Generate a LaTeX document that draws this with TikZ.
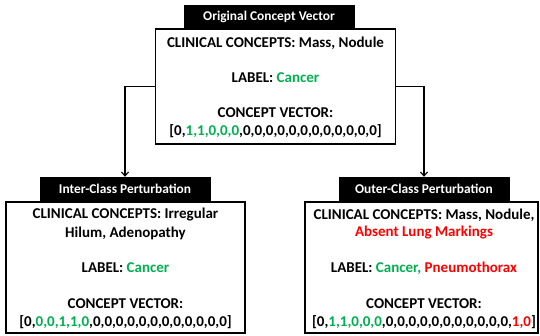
\documentclass[tikz,border=0pt]{standalone}
\usepackage{fontspec}
\setmainfont{Carlito}[BoldFont={Carlito Bold},ItalicFont={Carlito Italic},BoldItalicFont={Carlito Bold Italic}]
\usetikzlibrary{arrows.meta}
\definecolor{cgreen}{RGB}{0,176,80}
\definecolor{cred}{RGB}{255,0,0}
\newcommand{\gr}[1]{\textcolor{cgreen}{#1}}
\newcommand{\rd}[1]{\textcolor{cred}{#1}}
\begin{document}
\begin{tikzpicture}[x=1pt,y=-1pt,
  tabbox/.style={fill=black,draw=black,text=white,font=\bfseries\fontsize{13.4}{15}\selectfont,inner sep=0pt},
  mainbox/.style={draw=black,line width=1.6pt,inner sep=0pt},
  txt/.style={font=\bfseries\fontsize{15}{18}\selectfont,align=center,inner sep=0pt},
  conn/.style={draw=black,line width=1.1pt,-{Straight Barb[length=4pt,width=7pt]}}
]
\useasboundingbox (0,0) rectangle (540,335);
% top
\node[tabbox,minimum width=170pt,minimum height=23pt] (ttab) at (269,16.5) {Original Concept Vector};
\node[mainbox,minimum width=240pt,minimum height=115pt] (tbox) at (275.5,86.5) {};
\node[txt] (t1) at (275.5,43) {CLINICAL CONCEPTS: Mass, Nodule};
\node[txt] (t2) at (275.5,78) {LABEL: \gr{Cancer}};
\node[txt] (t3) at (275.5,113) {CONCEPT VECTOR:};
\node[txt] (t4) at (275.5,131) {[0,\gr{1,1,0,0,0},0,0,0,0,0,0,0,0,0,0,0,0]};
% left
\node[tabbox,minimum width=170pt,minimum height=24pt] (ltab) at (125,189) {Inter-Class Perturbation};
\node[mainbox,minimum width=239pt,minimum height=131pt] (lbox) at (125.5,267.5) {};
\node[txt] (l1) at (125.5,215) {CLINICAL CONCEPTS: Irregular};
\node[txt] (l2) at (125.5,233) {Hilum, Adenopathy};
\node[txt] (l3) at (125.5,268) {LABEL: \gr{Cancer}};
\node[txt] (l4) at (125.5,304) {CONCEPT VECTOR:};
\node[txt] (l5) at (125.5,322) {[0,\gr{0,0,1,1,0},0,0,0,0,0,0,0,0,0,0,0,0]};
% right
\node[tabbox,minimum width=170pt,minimum height=24pt] (rtab) at (424,189) {Outer-Class Perturbation};
\node[mainbox,minimum width=233pt,minimum height=131pt] (rbox) at (421.5,267.5) {};
\node[txt] (r1) at (424,215) {CLINICAL CONCEPTS: Mass, Nodule,};
\node[txt] (r2) at (424,233) {\rd{Absent Lung Markings}};
\node[txt] (r3) at (424,268) {LABEL: \gr{Cancer,} \rd{Pneumothorax}};
\node[txt] (r4) at (424,304) {CONCEPT VECTOR:};
\node[txt] (r5) at (424,322) {[0,\gr{1,1,0,0,0},0,0,0,0,0,0,0,0,0,0,0,\rd{1,0}]};
% connectors
\draw[conn] (tbox.west) -| (ltab.north);
\draw[conn] (tbox.east) -| (rtab.north);
\end{tikzpicture}
\end{document}
